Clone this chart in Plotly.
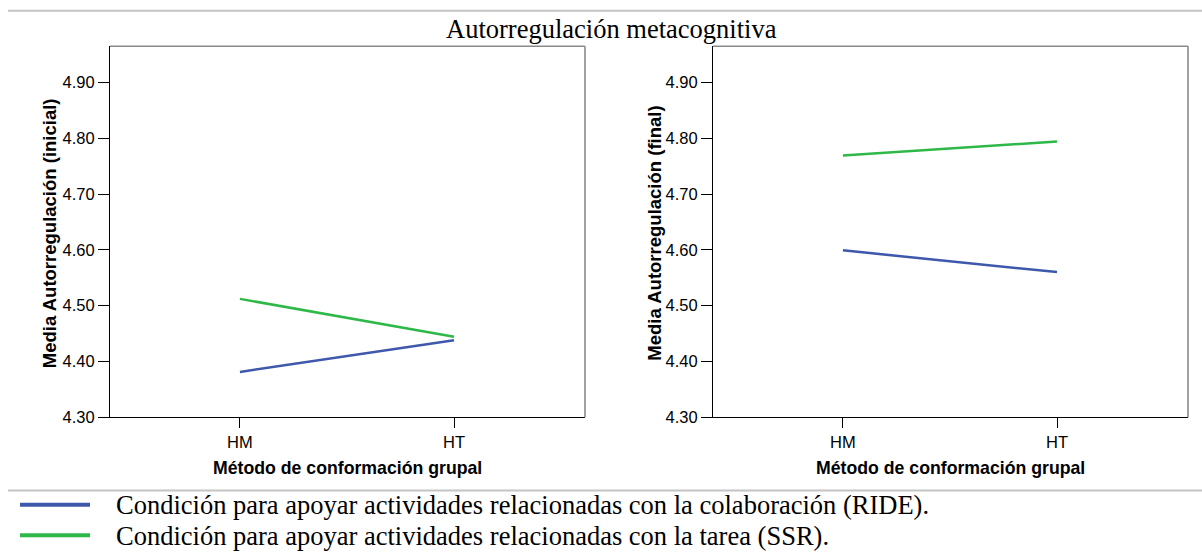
import plotly.graph_objects as go

W, H = 1202, 556

# ---------------- data ----------------
categories = ["HM", "HT"]
ride_inicial = [4.381, 4.438]
ssr_inicial = [4.512, 4.444]
ride_final = [4.599, 4.560]
ssr_final = [4.769, 4.794]
y_tick_vals = [4.30, 4.40, 4.50, 4.60, 4.70, 4.80, 4.90]
y_tick_text = ["4.30", "4.40", "4.50", "4.60", "4.70", "4.80", "4.90"]
series_names = [
    "Condición para apoyar actividades relacionadas con la colaboración (RIDE).",
    "Condición para apoyar actividades relacionadas con la tarea (SSR).",
]
series_colors = ["#3e58ac", "#2eb848"]
title_text = "Autorregulación metacognitiva"
x_title = "Método de conformación grupal"
y_titles = ["Media Autorregulación (inicial)", "Media Autorregulación (final)"]

# ---------------- layout helpers ----------------
def px_x(p):
    return p / W

def px_y(p):
    return 1 - p / H

left_dom = [px_x(110), px_x(585)]
right_dom = [px_x(713), px_x(1188)]
y_dom = [px_y(424), px_y(47)]
y_range = [4.30, 4.30 + 377 / 567.0]
x_range = [-0.607, 1.612]

sans = "Liberation Sans, Arial, sans-serif"
serif = "Liberation Serif, Times New Roman, serif"

fig = go.Figure()

panels = [
    ("x", "y", [ride_inicial, ssr_inicial]),
    ("x2", "y2", [ride_final, ssr_final]),
]
for xa, ya, series in panels:
    for vals, name, col in zip(series, series_names, series_colors):
        fig.add_trace(go.Scatter(
            x=categories, y=vals, mode="lines", name=name,
            line=dict(color=col, width=2.5),
            xaxis=xa, yaxis=ya, showlegend=False, hoverinfo="skip",
        ))

axis_common_x = dict(
    type="category", range=x_range, showline=True, linecolor="black", linewidth=1,
    ticks="outside", ticklen=10, tickcolor="black", tickwidth=1,
    tickfont=dict(family=sans, size=16.5, color="black"),
    showgrid=False, zeroline=False, fixedrange=True,
)
axis_common_y = dict(
    range=y_range, showline=True, linecolor="black", linewidth=1,
    ticks="outside", ticklen=11, tickcolor="black", tickwidth=1,
    tickvals=y_tick_vals, ticktext=y_tick_text,
    tickfont=dict(family=sans, size=16.5, color="black"),
    showgrid=False, zeroline=False, fixedrange=True,
)

fig.update_layout(
    width=W, height=H,
    margin=dict(l=0, r=0, t=0, b=0),
    paper_bgcolor="white", plot_bgcolor="white",
    xaxis=dict(domain=left_dom, anchor="y", **axis_common_x),
    yaxis=dict(domain=y_dom, anchor="x", **axis_common_y),
    xaxis2=dict(domain=right_dom, anchor="y2", **axis_common_x),
    yaxis2=dict(domain=y_dom, anchor="x2", **axis_common_y),
    showlegend=False,
)

shapes = []
annotations = []

# gray top and right frame edges of each panel, x-axis titles
for dom in (left_dom, right_dom):
    shapes.append(dict(type="line", xref="paper", yref="paper",
                       x0=dom[0], x1=dom[1], y0=y_dom[1], y1=y_dom[1],
                       line=dict(color="#8a8a8a", width=1.6)))
    shapes.append(dict(type="line", xref="paper", yref="paper",
                       x0=dom[1], x1=dom[1], y0=y_dom[0], y1=y_dom[1],
                       line=dict(color="#8a8a8a", width=1.6)))
    annotations.append(dict(text="<b>%s</b>" % x_title, xref="paper", yref="paper",
                            x=(dom[0] + dom[1]) / 2, y=px_y(475.5),
                            xanchor="center", yanchor="middle", showarrow=False,
                            font=dict(family=sans, size=17.7, color="black")))

# y-axis titles
for xp, t in zip((49, 654.5), y_titles):
    annotations.append(dict(text="<b>%s</b>" % t, xref="paper", yref="paper",
                            x=px_x(xp), y=px_y(237), textangle=-90,
                            xanchor="center", yanchor="middle", showarrow=False,
                            font=dict(family=sans, size=18.5, color="black")))

# separator lines
shapes.append(dict(type="line", xref="paper", yref="paper",
                   x0=px_x(8), x1=1, y0=px_y(11), y1=px_y(11),
                   line=dict(color="#c4c4c4", width=2)))
shapes.append(dict(type="line", xref="paper", yref="paper",
                   x0=px_x(8), x1=1, y0=px_y(498.5), y1=px_y(498.5),
                   line=dict(color="#c4c4c4", width=2)))

# title
annotations.append(dict(text=title_text, xref="paper", yref="paper",
                        x=px_x(611), y=px_y(29), xanchor="center", yanchor="middle",
                        showarrow=False,
                        font=dict(family=serif, size=26.5, color="black")))

# legend (drawn as lines + text)
for i, (name, col) in enumerate(zip(series_names, series_colors)):
    yy = [513, 544][i]
    shapes.append(dict(type="line", xref="paper", yref="paper",
                       x0=px_x(20), x1=px_x(90), y0=px_y(yy), y1=px_y(yy),
                       line=dict(color=col, width=4)))
    annotations.append(dict(text=name, xref="paper", yref="paper",
                            x=px_x(114), y=px_y(yy + 0.5), xanchor="left", yanchor="middle",
                            showarrow=False,
                            font=dict(family=serif, size=26.5, color="black")))

fig.update_layout(shapes=shapes, annotations=annotations)

fig.write_html("out.html")
